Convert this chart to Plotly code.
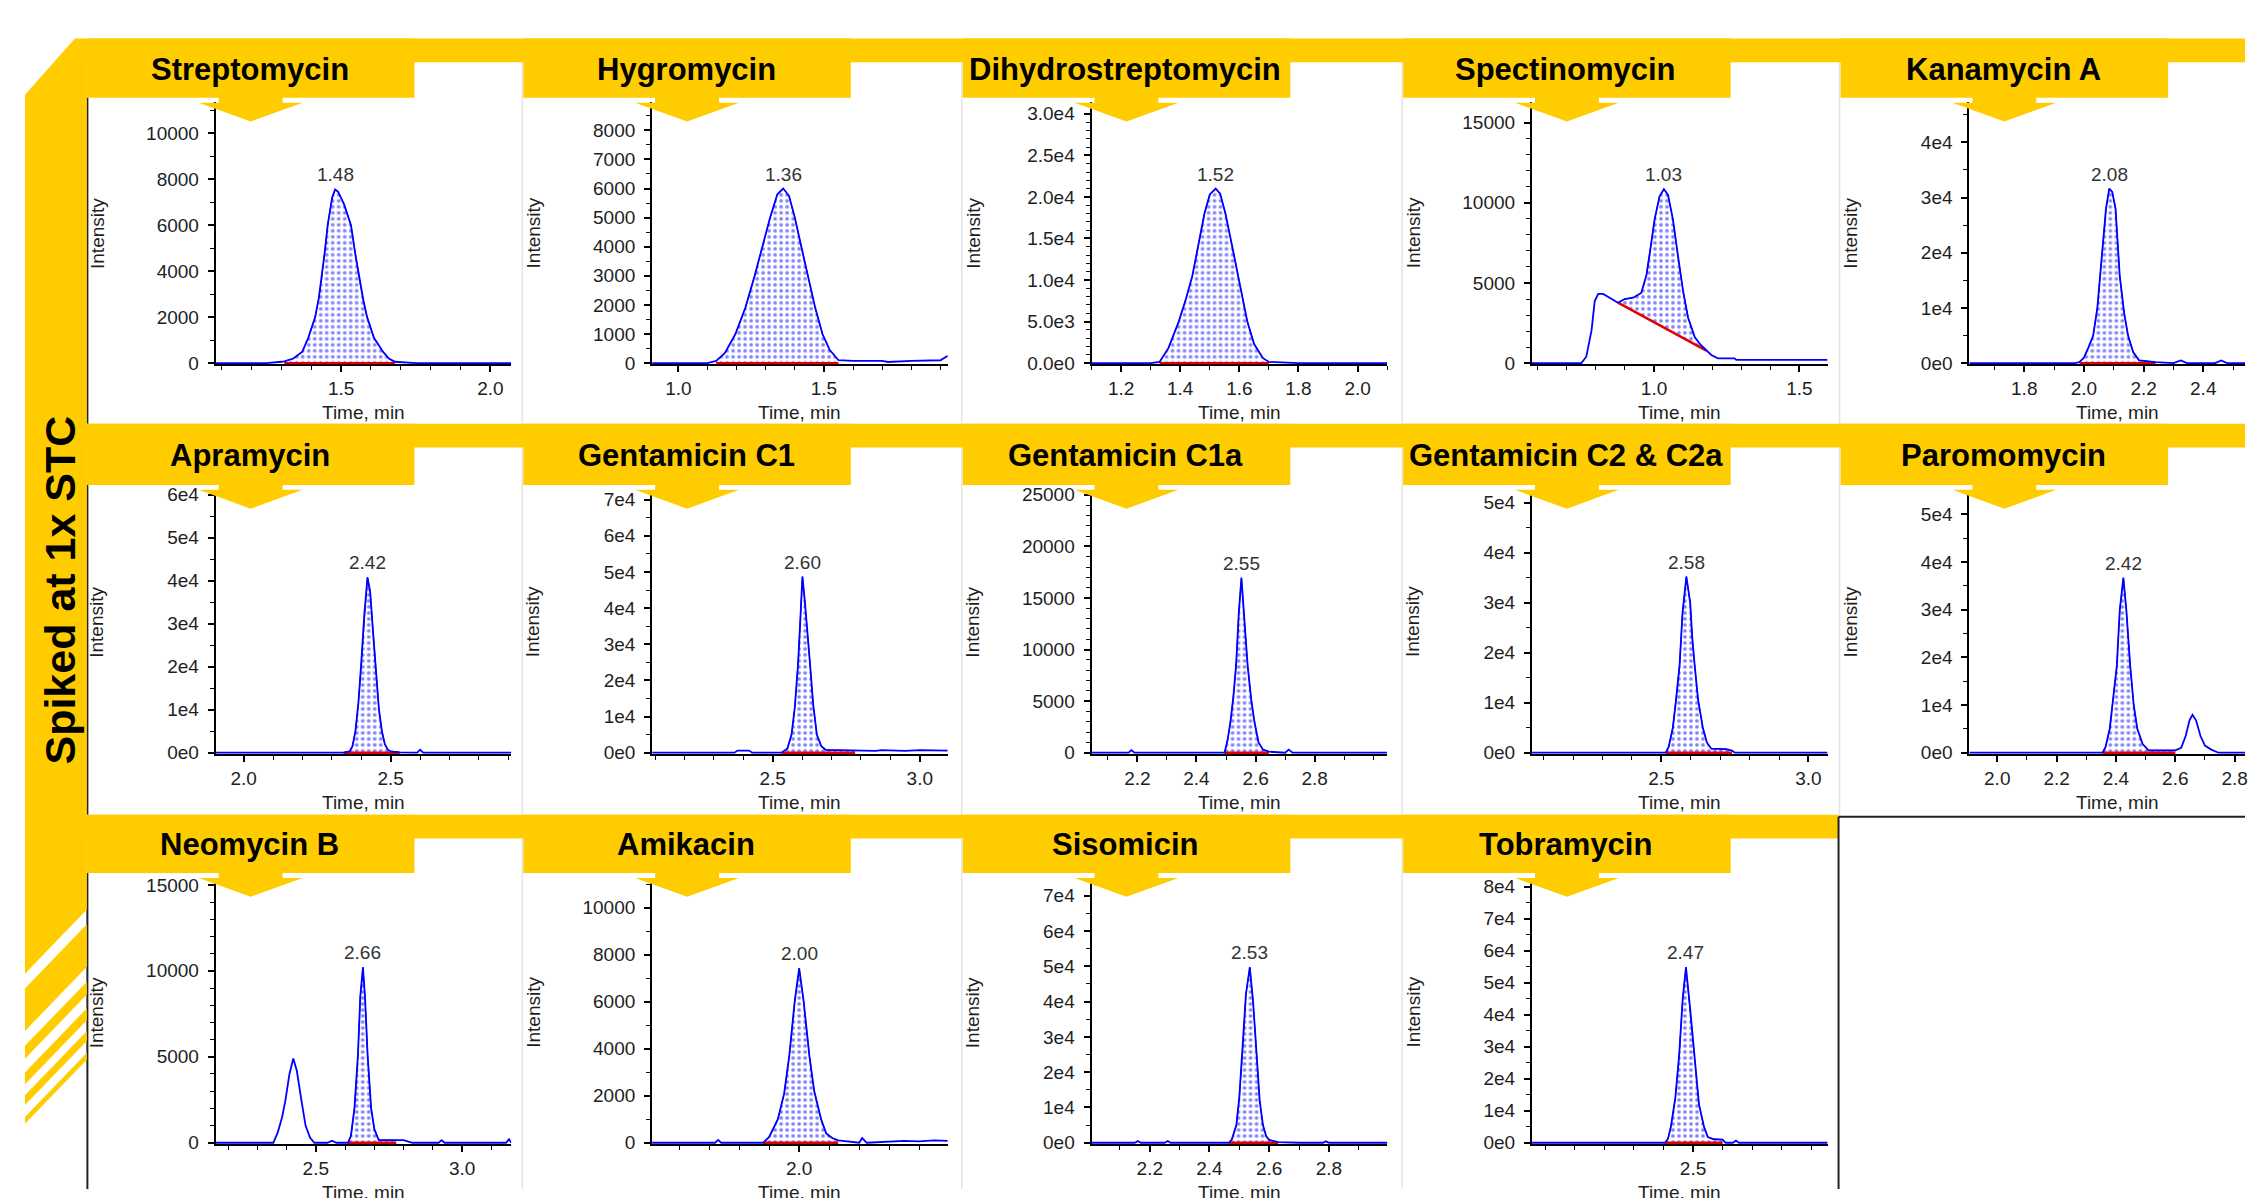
import plotly.graph_objects as go

W, H = 2248, 1198
YELLOW = "#FFCC00"
BLUE = "#0000FF"
RED = "#E00000"
FONT = "Liberation Sans, Arial, Helvetica, sans-serif"
TXT = "#1e1e1e"

# ---------------- data ----------------
E4 = ["0e0", "1e4", "2e4", "3e4", "4e4", "5e4", "6e4", "7e4", "8e4"]

streptomycin_time = [1.08, 1.25, 1.30, 1.31, 1.34, 1.37, 1.39, 1.413, 1.425, 1.435, 1.445, 1.455, 1.47, 1.48,
                     1.49, 1.51, 1.533, 1.548, 1.563, 1.575, 1.587, 1.61, 1.64, 1.66, 1.68, 1.75, 2.07]
streptomycin_int = [0, 0, 60, 80, 200, 500, 1100, 2000, 2800, 3700, 4800, 6000, 7200, 7550,
                    7450, 6900, 6000, 4700, 3500, 2700, 2000, 1100, 500, 200, 60, 0, 0]
streptomycin_bl_time = [1.31, 1.68]
streptomycin_bl_int = [0, 0]
streptomycin_rt = "1.48"
streptomycin_xticks = [1.5, 2.0]
streptomycin_yticks = [0, 2000, 4000, 6000, 8000, 10000]
streptomycin_yticktext = ["0", "2000", "4000", "6000", "8000", "10000"]

hygromycin_time = [0.91, 1.10, 1.13, 1.16, 1.196, 1.23, 1.262, 1.29, 1.315, 1.34, 1.36, 1.38, 1.40, 1.42,
                   1.446, 1.47, 1.495, 1.52, 1.55, 1.60, 1.70, 1.72, 1.80, 1.90, 1.925]
hygromycin_int = [0, 0, 80, 350, 1000, 1900, 3000, 4100, 5000, 5800, 6000, 5750, 5000, 4100,
                  3000, 1900, 1000, 450, 100, 80, 80, 40, 80, 100, 250]
hygromycin_bl_time = [1.13, 1.55]
hygromycin_bl_int = [0, 0]
hygromycin_rt = "1.36"
hygromycin_xticks = [1.0, 1.5]
hygromycin_yticks = [0, 1000, 2000, 3000, 4000, 5000, 6000, 7000, 8000]
hygromycin_yticktext = ["0", "1000", "2000", "3000", "4000", "5000", "6000", "7000", "8000"]

dihydro_time = [1.10, 1.30, 1.33, 1.36, 1.395, 1.42, 1.441, 1.46, 1.482, 1.50, 1.52, 1.535, 1.553, 1.575,
                1.596, 1.61, 1.627, 1.65, 1.68, 1.70, 1.80, 2.10]
dihydro_int = [0, 0, 150, 1800, 5000, 7800, 10500, 14000, 18000, 20300, 21000, 20400, 18000, 14200,
               10500, 7800, 5000, 2300, 600, 150, 0, 0]
dihydro_bl_time = [1.33, 1.70]
dihydro_bl_int = [0, 0]
dihydro_rt = "1.52"
dihydro_xticks = [1.2, 1.4, 1.6, 1.8, 2.0]
dihydro_yticks = [0, 5000, 10000, 15000, 20000, 25000, 30000]
dihydro_yticktext = ["0.0e0", "5.0e3", "1.0e4", "1.5e4", "2.0e4", "2.5e4", "3.0e4"]

spectinomycin_time = [0.58, 0.75, 0.767, 0.785, 0.796, 0.808, 0.825, 0.848, 0.876, 0.899, 0.928, 0.956, 0.974,
                      0.991, 1.002, 1.019, 1.034, 1.048, 1.065, 1.082, 1.10, 1.117, 1.14, 1.16, 1.18, 1.197,
                      1.22, 1.277, 1.283, 1.597]
spectinomycin_int = [0, 0, 400, 2040, 3870, 4320, 4320, 4080, 3770, 4000, 4080, 4380, 5500,
                     7550, 8970, 10400, 10850, 10500, 8970, 6730, 4490, 2850, 1630, 1150, 780, 510,
                     300, 300, 200, 200]
spectinomycin_bl_time = [0.876, 1.18]
spectinomycin_bl_int = [3770, 780]
spectinomycin_rt = "1.03"
spectinomycin_xticks = [1.0, 1.5]
spectinomycin_yticks = [0, 5000, 10000, 15000]
spectinomycin_yticktext = ["0", "5000", "10000", "15000"]

kanamycin_time = [1.616, 1.97, 1.985, 2.0, 2.015, 2.031, 2.045, 2.055, 2.065, 2.074, 2.085, 2.095, 2.106,
                  2.113, 2.12, 2.135, 2.148, 2.165, 2.185, 2.24, 2.30, 2.325, 2.345, 2.44, 2.46, 2.48, 2.54]
kanamycin_int = [0, 0, 200, 1000, 2800, 5000, 10000, 15850, 23000, 28000, 31600, 31000, 28000,
                 22000, 15850, 9000, 5000, 2000, 500, 200, 0, 500, 0, 0, 500, 0, 0]
kanamycin_bl_time = [1.985, 2.24]
kanamycin_bl_int = [0, 0]
kanamycin_rt = "2.08"
kanamycin_xticks = [1.8, 2.0, 2.2, 2.4]
kanamycin_yticks = [0, 10000, 20000, 30000, 40000]
kanamycin_yticktext = E4[:5]

apramycin_time = [1.905, 2.34, 2.36, 2.37, 2.38, 2.39, 2.40, 2.41, 2.421, 2.43, 2.44, 2.45, 2.46, 2.47,
                  2.48, 2.49, 2.50, 2.53, 2.59, 2.60, 2.61, 2.91]
apramycin_int = [0, 0, 300, 1500, 5000, 11500, 21000, 32000, 40800, 37500, 28000, 18000, 10000, 5000,
                 2000, 700, 300, 100, 0, 700, 0, 0]
apramycin_bl_time = [2.34, 2.53]
apramycin_bl_int = [0, 0]
apramycin_rt = "2.42"
apramycin_xticks = [2.0, 2.5]
apramycin_yticks = [0, 10000, 20000, 30000, 40000, 50000, 60000]
apramycin_yticktext = E4[:7]

gentc1_time = [2.09, 2.37, 2.38, 2.42, 2.43, 2.53, 2.55, 2.564, 2.575, 2.586, 2.594, 2.601, 2.609, 2.618,
               2.627, 2.638, 2.65, 2.665, 2.68, 2.72, 2.78, 2.85, 2.87, 2.95, 3.0, 3.095]
gentc1_int = [0, 0, 600, 600, 0, 0, 1200, 5000, 12500, 24400, 37000, 48700, 42000, 32000,
              24400, 13000, 5000, 1800, 800, 700, 600, 500, 700, 500, 700, 600]
gentc1_bl_time = [2.53, 2.78]
gentc1_bl_int = [0, 0]
gentc1_rt = "2.60"
gentc1_xticks = [2.5, 3.0]
gentc1_yticks = [0, 10000, 20000, 30000, 40000, 50000, 60000, 70000]
gentc1_yticktext = E4[:8]

gentc1a_time = [2.045, 2.17, 2.18, 2.19, 2.495, 2.505, 2.515, 2.525, 2.534, 2.543, 2.552, 2.56, 2.566, 2.573,
                2.585, 2.596, 2.61, 2.625, 2.645, 2.70, 2.712, 2.725, 3.045]
gentc1a_int = [0, 0, 250, 0, 0, 1200, 3000, 5500, 8460, 13500, 16950, 14000, 11000, 8460,
               5200, 3000, 1000, 300, 100, 0, 300, 0, 0]
gentc1a_bl_time = [2.495, 2.645]
gentc1a_bl_int = [0, 0]
gentc1a_rt = "2.55"
gentc1a_xticks = [2.2, 2.4, 2.6, 2.8]
gentc1a_yticks = [0, 5000, 10000, 15000, 20000, 25000]
gentc1a_yticktext = ["0", "5000", "10000", "15000", "20000", "25000"]

gentc2_time = [2.06, 2.515, 2.525, 2.539, 2.55, 2.562, 2.572, 2.585, 2.598, 2.605, 2.613, 2.625, 2.641,
               2.655, 2.67, 2.69, 2.72, 2.74, 2.75, 3.065]
gentc2_int = [0, 0, 1200, 5000, 10500, 17600, 28000, 35200, 30000, 23000, 17600, 10500, 5000,
              2000, 800, 800, 700, 400, 0, 0]
gentc2_bl_time = [2.515, 2.74]
gentc2_bl_int = [0, 0]
gentc2_rt = "2.58"
gentc2_xticks = [2.5, 3.0]
gentc2_yticks = [0, 10000, 20000, 30000, 40000, 50000]
gentc2_yticktext = E4[:6]

paromomycin_time = [1.906, 2.355, 2.365, 2.379, 2.39, 2.403, 2.413, 2.425, 2.435, 2.448, 2.46, 2.472, 2.49,
                    2.51, 2.55, 2.60, 2.62, 2.635, 2.648, 2.658, 2.67, 2.685, 2.70, 2.72, 2.745, 2.835]
paromomycin_int = [0, 0, 1200, 5000, 11000, 18300, 30000, 36700, 30000, 18300, 10000, 5000, 1800,
                   500, 500, 500, 1000, 3500, 6800, 7950, 6800, 3500, 1500, 700, 0, 0]
paromomycin_bl_time = [2.355, 2.60]
paromomycin_bl_int = [0, 0]
paromomycin_rt = "2.42"
paromomycin_xticks = [2.0, 2.2, 2.4, 2.6, 2.8]
paromomycin_yticks = [0, 10000, 20000, 30000, 40000, 50000]
paromomycin_yticktext = E4[:6]

neomycin_time = [2.158, 2.355, 2.37, 2.385, 2.396, 2.41, 2.423, 2.435, 2.451, 2.465, 2.48, 2.495, 2.54,
                 2.555, 2.57, 2.61, 2.62, 2.632, 2.644, 2.652, 2.661, 2.668, 2.677, 2.689, 2.70, 2.715,
                 2.775, 2.80, 2.83, 2.92, 2.93, 2.94, 3.15, 3.16, 3.168]
neomycin_int = [0, 0, 600, 1500, 2450, 4000, 4900, 4200, 2450, 1000, 300, 0, 0,
                120, 0, 0, 400, 2000, 5100, 8500, 10200, 8500, 5100, 2000, 800, 150,
                150, 150, 0, 0, 150, 0, 0, 200, 0]
neomycin_bl_time = [2.61, 2.775]
neomycin_bl_int = [0, 0]
neomycin_rt = "2.66"
neomycin_xticks = [2.5, 3.0]
neomycin_yticks = [0, 5000, 10000, 15000]
neomycin_yticktext = ["0", "5000", "10000", "15000"]

amikacin_time = [1.51, 1.72, 1.73, 1.74, 1.88, 1.90, 1.929, 1.95, 1.967, 1.985, 2.0, 2.015, 2.034, 2.05,
                 2.073, 2.09, 2.11, 2.13, 2.20, 2.21, 2.225, 2.30, 2.35, 2.40, 2.45, 2.495]
amikacin_int = [0, 0, 120, 0, 0, 250, 1000, 2100, 3700, 6000, 7420, 6000, 3700, 2200,
                1000, 400, 200, 100, 0, 200, 0, 60, 80, 60, 100, 80]
amikacin_bl_time = [1.88, 2.13]
amikacin_bl_int = [0, 0]
amikacin_rt = "2.00"
amikacin_xticks = [2.0]
amikacin_yticks = [0, 2000, 4000, 6000, 8000, 10000]
amikacin_yticktext = ["0", "2000", "4000", "6000", "8000", "10000"]

sisomicin_time = [2.0, 2.15, 2.16, 2.17, 2.25, 2.26, 2.27, 2.465, 2.475, 2.49, 2.50, 2.51, 2.522, 2.535,
                  2.546, 2.558, 2.568, 2.579, 2.59, 2.60, 2.63, 2.70, 2.78, 2.79, 2.80, 3.0]
sisomicin_int = [0, 0, 500, 0, 0, 500, 0, 0, 1000, 5000, 13000, 24850, 42000, 49700,
                 40000, 24850, 12000, 5000, 1800, 800, 200, 0, 0, 400, 0, 0]
sisomicin_bl_time = [2.465, 2.63]
sisomicin_bl_int = [0, 0]
sisomicin_rt = "2.53"
sisomicin_xticks = [2.2, 2.4, 2.6, 2.8]
sisomicin_yticks = [0, 10000, 20000, 30000, 40000, 50000, 60000, 70000]
sisomicin_yticktext = E4[:8]

tobramycin_time = [1.955, 2.405, 2.415, 2.425, 2.44, 2.453, 2.465, 2.476, 2.49, 2.504, 2.52, 2.537, 2.55,
                   2.57, 2.60, 2.61, 2.635, 2.645, 2.655, 2.955]
tobramycin_int = [0, 0, 1200, 5000, 14000, 27400, 45000, 54800, 42000, 27400, 12000, 5000, 1800,
                  1100, 1000, 0, 0, 700, 0, 0]
tobramycin_bl_time = [2.405, 2.60]
tobramycin_bl_int = [0, 0]
tobramycin_rt = "2.47"
tobramycin_xticks = [2.5]
tobramycin_yticks = [0, 10000, 20000, 30000, 40000, 50000, 60000, 70000, 80000]
tobramycin_yticktext = E4[:9]

side_label = "Spiked at 1x STC"

# ---------------- panel config ----------------
panels = [
    dict(name="Streptomycin", row=0, col=0, t=streptomycin_time, i=streptomycin_int,
         blt=streptomycin_bl_time, bli=streptomycin_bl_int, rt=streptomycin_rt,
         xr=[1.08, 2.07], ytop=11360, xt=streptomycin_xticks, yv=streptomycin_yticks,
         ytx=streptomycin_yticktext, ymin=1000),
    dict(name="Hygromycin", row=0, col=1, t=hygromycin_time, i=hygromycin_int,
         blt=hygromycin_bl_time, bli=hygromycin_bl_int, rt=hygromycin_rt,
         xr=[0.91, 1.925], ytop=8980, xt=hygromycin_xticks, yv=hygromycin_yticks,
         ytx=hygromycin_yticktext, ymin=500),
    dict(name="Dihydrostreptomycin", row=0, col=2, t=dihydro_time, i=dihydro_int,
         blt=dihydro_bl_time, bli=dihydro_bl_int, rt=dihydro_rt,
         xr=[1.10, 2.10], ytop=31450, xt=dihydro_xticks, yv=dihydro_yticks,
         ytx=dihydro_yticktext, ymin=1000),
    dict(name="Spectinomycin", row=0, col=3, t=spectinomycin_time, i=spectinomycin_int,
         blt=spectinomycin_bl_time, bli=spectinomycin_bl_int, rt=spectinomycin_rt,
         xr=[0.58, 1.597], ytop=16300, xt=spectinomycin_xticks, yv=spectinomycin_yticks,
         ytx=spectinomycin_yticktext, ymin=1000),
    dict(name="Kanamycin A", row=0, col=4, t=kanamycin_time, i=kanamycin_int,
         blt=kanamycin_bl_time, bli=kanamycin_bl_int, rt=kanamycin_rt,
         xr=[1.616, 2.54], ytop=47340, xt=kanamycin_xticks, yv=kanamycin_yticks,
         ytx=kanamycin_yticktext, ymin=5000),
    dict(name="Apramycin", row=1, col=0, t=apramycin_time, i=apramycin_int,
         blt=apramycin_bl_time, bli=apramycin_bl_int, rt=apramycin_rt,
         xr=[1.905, 2.91], ytop=61150, xt=apramycin_xticks, yv=apramycin_yticks,
         ytx=apramycin_yticktext, ymin=5000),
    dict(name="Gentamicin C1", row=1, col=1, t=gentc1_time, i=gentc1_int,
         blt=gentc1_bl_time, bli=gentc1_bl_int, rt=gentc1_rt,
         xr=[2.09, 3.095], ytop=72700, xt=gentc1_xticks, yv=gentc1_yticks,
         ytx=gentc1_yticktext, ymin=5000),
    dict(name="Gentamicin C1a", row=1, col=2, t=gentc1a_time, i=gentc1a_int,
         blt=gentc1a_bl_time, bli=gentc1a_bl_int, rt=gentc1a_rt,
         xr=[2.045, 3.045], ytop=25480, xt=gentc1a_xticks, yv=gentc1a_yticks,
         ytx=gentc1a_yticktext, ymin=1000),
    dict(name="Gentamicin C2 & C2a", row=1, col=3, t=gentc2_time, i=gentc2_int,
         blt=gentc2_bl_time, bli=gentc2_bl_int, rt=gentc2_rt,
         xr=[2.06, 3.065], ytop=52550, xt=gentc2_xticks, yv=gentc2_yticks,
         ytx=gentc2_yticktext, ymin=5000),
    dict(name="Paromomycin", row=1, col=4, t=paromomycin_time, i=paromomycin_int,
         blt=paromomycin_bl_time, bli=paromomycin_bl_int, rt=paromomycin_rt,
         xr=[1.906, 2.835], ytop=55140, xt=paromomycin_xticks, yv=paromomycin_yticks,
         ytx=paromomycin_yticktext, ymin=5000),
    dict(name="Neomycin B", row=2, col=0, t=neomycin_time, i=neomycin_int,
         blt=neomycin_bl_time, bli=neomycin_bl_int, rt=neomycin_rt,
         xr=[2.158, 3.168], ytop=15230, xt=neomycin_xticks, yv=neomycin_yticks,
         ytx=neomycin_yticktext, ymin=1000),
    dict(name="Amikacin", row=2, col=1, t=amikacin_time, i=amikacin_int,
         blt=amikacin_bl_time, bli=amikacin_bl_int, rt=amikacin_rt,
         xr=[1.51, 2.495], ytop=11140, xt=amikacin_xticks, yv=amikacin_yticks,
         ytx=amikacin_yticktext, ymin=1000),
    dict(name="Sisomicin", row=2, col=2, t=sisomicin_time, i=sisomicin_int,
         blt=sisomicin_bl_time, bli=sisomicin_bl_int, rt=sisomicin_rt,
         xr=[2.005, 2.995], ytop=74170, xt=sisomicin_xticks, yv=sisomicin_yticks,
         ytx=sisomicin_yticktext, ymin=5000),
    dict(name="Tobramycin", row=2, col=3, t=tobramycin_time, i=tobramycin_int,
         blt=tobramycin_bl_time, bli=tobramycin_bl_int, rt=tobramycin_rt,
         xr=[1.955, 2.955], ytop=81750, xt=tobramycin_xticks, yv=tobramycin_yticks,
         ytx=tobramycin_yticktext, ymin=5000),
]

# ---------------- layout geometry (pixels) ----------------
COL_X0 = [87, 524, 964, 1405, 1843]
BAND_TOP = [33, 423, 819]
BAND_BOT = [57, 447, 843]
TITLE_BOT = [93, 485, 878]
PLOT_TOP = [97, 490, 886]
PLOT_BOT = [363, 757.5, 1152.5]
BOX_W = 328


def px(x):
    return x / W


def py(y):
    return 1 - y / H


def pt(x, y):
    return f"{px(x):.6f},{py(y):.6f}"


def poly(points):
    return "M " + " L ".join(pt(x, y) for x, y in points) + " Z"


def text_at(x, y, text, size, color=TXT, angle=0):
    return dict(x=px(x), y=py(y), xref="paper", yref="paper", text=text, textangle=angle,
                showarrow=False, xanchor="center", yanchor="middle",
                font=dict(family=FONT, size=size, color=color))


fig = go.Figure()
layout = {}
shapes = []
annotations = []

for k, p in enumerate(panels, start=1):
    xa = "x" if k == 1 else f"x{k}"
    ya = "y" if k == 1 else f"y{k}"
    r, c = p["row"], p["col"]
    x0 = COL_X0[c]

    # baseline (red), then the integrated (dotted) area, then the trace
    fig.add_trace(go.Scatter(x=p["blt"], y=p["bli"], mode="lines",
                             line=dict(color=RED, width=2.5), xaxis=xa, yaxis=ya,
                             hoverinfo="skip", showlegend=False))
    sub_t = [t for t in p["t"] if p["blt"][0] <= t <= p["blt"][1]]
    sub_i = [v for t, v in zip(p["t"], p["i"]) if p["blt"][0] <= t <= p["blt"][1]]
    fig.add_trace(go.Scatter(x=sub_t, y=sub_i, mode="lines", fill="tonexty",
                             fillpattern=dict(shape=".", fgcolor=BLUE, bgcolor="white",
                                              size=6, solidity=0.3),
                             line=dict(color=BLUE, width=1), xaxis=xa, yaxis=ya,
                             hoverinfo="skip", showlegend=False))
    fig.add_trace(go.Scatter(x=p["t"], y=p["i"], mode="lines",
                             line=dict(color=BLUE, width=1.8), xaxis=xa, yaxis=ya,
                             hoverinfo="skip", showlegend=False))

    xd = [px(x0 + 129), px(min(x0 + 425, W))]
    yd = [py(PLOT_BOT[r]), py(PLOT_TOP[r])]
    common = dict(showline=True, linecolor="black", linewidth=2, ticks="outside",
                  ticklen=6, tickwidth=1.5, tickcolor="black", showgrid=False,
                  zeroline=False, tickfont=dict(family=FONT, size=19, color=TXT),
                  layer="below traces", fixedrange=True)
    layout["xaxis" if k == 1 else f"xaxis{k}"] = dict(
        domain=xd, range=p["xr"], anchor=ya, tickmode="array",
        tickvals=p["xt"], ticktext=[f"{v:.1f}" for v in p["xt"]],
        ticklabeloverflow="allow",
        minor=dict(ticks="outside", ticklen=4, tickwidth=1.2, tickcolor="black",
                   tickmode="linear", tick0=0, dtick=0.1, showgrid=False),
        **common)
    layout["yaxis" if k == 1 else f"yaxis{k}"] = dict(
        domain=yd, range=[-0.005 * p["ytop"], p["ytop"]], anchor=xa, tickmode="array",
        tickvals=p["yv"], ticktext=p["ytx"], ticklabelstandoff=5,
        minor=dict(ticks="outside", ticklen=4, tickwidth=1.2, tickcolor="black",
                   tickmode="linear", tick0=0, dtick=p["ymin"], showgrid=False),
        **common)

    # retention time label above apex
    imax = max(range(len(sub_i)), key=lambda j: sub_i[j])
    annotations.append(dict(x=sub_t[imax], y=sub_i[imax], xref=xa, yref=ya,
                            text=p["rt"], showarrow=False, xanchor="center",
                            yanchor="bottom", yshift=2,
                            font=dict(family=FONT, size=19, color="#333333")))
    # axis titles
    annotations.append(text_at(x0 + 10, (PLOT_TOP[r] + PLOT_BOT[r]) / 2, "Intensity", 19, angle=-90))
    annotations.append(text_at(x0 + 277, PLOT_BOT[r] + 49, "Time, min", 19))
    # title box + arrow
    shapes.append(dict(type="rect", xref="paper", yref="paper", x0=px(x0), x1=px(x0 + BOX_W),
                       y0=py(TITLE_BOT[r]), y1=py(BAND_TOP[r]), fillcolor=YELLOW,
                       line=dict(width=0), layer="above"))
    tb = TITLE_BOT[r]
    shapes.append(dict(type="path", xref="paper", yref="paper", fillcolor=YELLOW,
                       line=dict(width=0), layer="above",
                       path=poly([(x0 + 132, tb - 1), (x0 + 196, tb - 1), (x0 + 196, tb + 5),
                                  (x0 + 216, tb + 5), (x0 + 164, tb + 24), (x0 + 112, tb + 5),
                                  (x0 + 132, tb + 5)])))
    annotations.append(text_at(x0 + 163, (BAND_TOP[r] + TITLE_BOT[r]) / 2 + 1,
                               f"<b>{p['name']}</b>", 31, color="black"))

# panel separators (faint)
for r in range(3):
    y_end = BAND_TOP[r + 1] if r < 2 else H
    ncols = 5 if r < 2 else 4
    for c in range(1, ncols):
        shapes.append(dict(type="line", xref="paper", yref="paper",
                           x0=px(COL_X0[c] - 1), x1=px(COL_X0[c] - 1),
                           y0=py(BAND_BOT[r]), y1=py(y_end),
                           line=dict(color="#e4e4e4", width=1.5), layer="below"))
    # dark left border of first column
    shapes.append(dict(type="line", xref="paper", yref="paper", x0=px(87.5), x1=px(87.5),
                       y0=py(TITLE_BOT[r]), y1=py(y_end),
                       line=dict(color="#222222", width=2), layer="above"))

# big yellow frame: chamfered corner, top band and left band
shapes.append(dict(type="path", xref="paper", yref="paper", fillcolor=YELLOW,
                   line=dict(width=0), layer="above",
                   path=poly([(25, 90), (75, 33), (W, 33), (W, 57), (87, 57),
                              (87, 915), (25, 980)])))
for a, b in [(995, 1038), (1053, 1066), (1080, 1092), (1103, 1113), (1125, 1132)]:
    shapes.append(dict(type="path", xref="paper", yref="paper", fillcolor=YELLOW,
                       line=dict(width=0), layer="above",
                       path=poly([(25, a), (87, a - 65), (87, b - 65), (25, b)])))
# row bands
shapes.append(dict(type="rect", xref="paper", yref="paper", x0=px(86), x1=px(W),
                   y0=py(BAND_BOT[1]), y1=py(BAND_TOP[1]), fillcolor=YELLOW,
                   line=dict(width=0), layer="above"))
shapes.append(dict(type="rect", xref="paper", yref="paper", x0=px(86), x1=px(1841),
                   y0=py(BAND_BOT[2]), y1=py(BAND_TOP[2]), fillcolor=YELLOW,
                   line=dict(width=0), layer="above"))
# empty cell border
shapes.append(dict(type="line", xref="paper", yref="paper", x0=px(1841), x1=px(1841),
                   y0=py(821), y1=py(H), line=dict(color="#222222", width=2), layer="above"))
shapes.append(dict(type="line", xref="paper", yref="paper", x0=px(1841), x1=px(W),
                   y0=py(821), y1=py(821), line=dict(color="#222222", width=2), layer="above"))

annotations.append(text_at(60, 591, f"<b>{side_label}</b>", 43, color="black", angle=-90))

fig.update_layout(width=W, height=H, margin=dict(l=0, r=0, t=0, b=0),
                  paper_bgcolor="white", plot_bgcolor="white", showlegend=False,
                  hovermode=False, font=dict(family=FONT), shapes=shapes,
                  annotations=annotations, **layout)

fig.write_html("out.html", config={"displayModeBar": False},
               post_script="document.body.style.margin='0';document.body.style.overflow='hidden';")
